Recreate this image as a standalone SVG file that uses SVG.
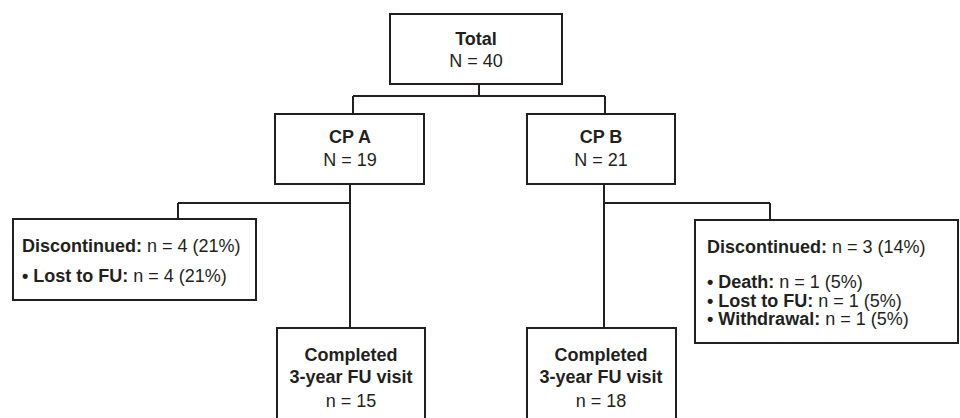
<svg xmlns="http://www.w3.org/2000/svg" width="960" height="418" viewBox="0 0 960 418">
<style>
.box{fill:#fff;stroke:#231f20;stroke-width:2}
.ln{fill:none;stroke:#231f20;stroke-width:2}
text{font-family:"Liberation Sans",Arial,sans-serif;font-size:18px;fill:#231f20}
.c{text-anchor:middle}
.b{font-weight:bold}
</style>
<rect width="960" height="418" fill="#fff"/>
<g id="connectors">
<path class="ln" d="M479 84V96M353 96H605M353 96V114M605 96V114"/>
<path class="ln" d="M350 184V328M178 203H350M178 203V219"/>
<path class="ln" d="M604 184V328M604 203H770M770 203V220"/>
</g>
<g id="total">
<rect class="box" x="390" y="14" width="172" height="70"/>
<text class="c b" x="476" y="45">Total</text>
<text class="c" x="476" y="67">N = 40</text>
</g>
<g id="cpa">
<rect class="box" x="275" y="114" width="149" height="70"/>
<text class="c b" x="350" y="143">CP A</text>
<text class="c" x="350" y="166">N = 19</text>
</g>
<g id="cpb">
<rect class="box" x="527" y="114" width="148" height="70"/>
<text class="c b" x="601" y="143">CP B</text>
<text class="c" x="601" y="166">N = 21</text>
</g>
<g id="disc-a">
<rect class="box" x="13" y="219" width="243" height="81"/>
<text x="22" y="252"><tspan class="b">Discontinued:</tspan> n = 4 (21%)</text>
<text x="22" y="282"><tspan class="b">• Lost to FU:</tspan> n = 4 (21%)</text>
</g>
<g id="disc-b">
<rect class="box" x="695" y="220" width="263" height="123"/>
<text x="707" y="253"><tspan class="b">Discontinued:</tspan> n = 3 (14%)</text>
<text x="707" y="288"><tspan class="b">• Death:</tspan>  n = 1 (5%)</text>
<text x="707" y="306.5"><tspan class="b">• Lost to FU:</tspan> n = 1 (5%)</text>
<text x="707" y="325"><tspan class="b">• Withdrawal:</tspan>  n = 1 (5%)</text>
</g>
<g id="completed-a">
<rect class="box" x="277" y="328" width="148" height="100"/>
<text class="c b" x="351" y="361">Completed</text>
<text class="c b" x="351" y="383">3-year FU visit</text>
<text class="c" x="351" y="407">n = 15</text>
</g>
<g id="completed-b">
<rect class="box" x="527" y="328" width="149" height="100"/>
<text class="c b" x="601" y="361">Completed</text>
<text class="c b" x="601" y="383">3-year FU visit</text>
<text class="c" x="601" y="407">n = 18</text>
</g>
</svg>
